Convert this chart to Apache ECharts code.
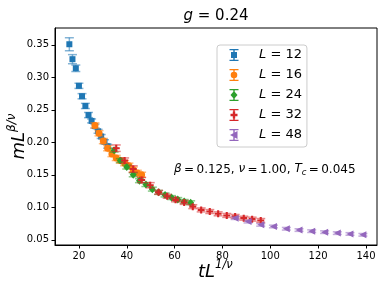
<!DOCTYPE html>
<html><head><meta charset="utf-8">
<script src="https://cdn.jsdelivr.net/npm/echarts@6/dist/echarts.min.js"></script>
<style>html,body{margin:0;padding:0;background:#fff}#c{width:386px;height:290px}</style>
</head><body><div id="c"></div>
<script>
// ---- data ----
const sizes = [12, 16, 24, 32, 48];

const x12 = [16.0, 17.3, 18.7, 20.0, 21.3, 22.7, 24.0, 25.3, 26.7, 28.0, 29.3, 30.7, 32.0];
const y12 = [0.351, 0.328, 0.314, 0.287, 0.271, 0.256, 0.242, 0.233, 0.225, 0.217, 0.209, 0.201, 0.194];
const e12 = [0.010, 0.007, 0.005, 0.004, 0.004, 0.004, 0.004, 0.003, 0.003, 0.003, 0.003, 0.003, 0.003];

const x16 = [26.7, 28.4, 30.2, 32.0, 33.8, 35.6, 37.3, 39.1, 40.9, 42.7, 44.4, 46.2];
const y16 = [0.226, 0.214, 0.202, 0.191, 0.182, 0.176, 0.172, 0.168, 0.164, 0.158, 0.153, 0.150];
const e16 = [0.004, 0.004, 0.004, 0.004, 0.004, 0.004, 0.004, 0.004, 0.004, 0.004, 0.004, 0.004];

const x24 = [34.7, 37.3, 40.0, 42.7, 45.3, 48.0, 50.7, 53.3, 56.0, 58.7, 61.3, 64.0, 66.7];
const y24 = [0.188, 0.172, 0.162, 0.150, 0.141, 0.135, 0.128, 0.123, 0.119, 0.115, 0.112, 0.109, 0.107];
const e24 = [0.003, 0.003, 0.003, 0.003, 0.003, 0.003, 0.003, 0.003, 0.003, 0.003, 0.003, 0.003, 0.003];

const x32 = [35.6, 39.1, 42.7, 46.2, 49.8, 53.3, 56.9, 60.4, 64.0, 67.6, 71.1, 74.7, 78.2, 81.8, 85.3, 88.9, 92.4, 96.0];
const y32 = [0.191, 0.172, 0.159, 0.142, 0.134, 0.123, 0.117, 0.1115, 0.1075, 0.101, 0.096, 0.0935, 0.090, 0.0875, 0.086, 0.0833, 0.0818, 0.0797];
const e32 = [0.005, 0.004, 0.005, 0.004, 0.004, 0.003, 0.003, 0.003, 0.003, 0.003, 0.003, 0.003, 0.003, 0.003, 0.003, 0.003, 0.003, 0.003];

const x48 = [85.3, 90.7, 96.0, 101.3, 106.7, 112.0, 117.3, 122.7, 128.0, 133.3, 138.7];
const y48 = [0.0833, 0.078, 0.073, 0.0705, 0.067, 0.065, 0.0633, 0.0618, 0.0603, 0.059, 0.0577];
const e48 = [0.002, 0.002, 0.002, 0.002, 0.002, 0.002, 0.002, 0.002, 0.002, 0.002, 0.002];

const xTicks = [20, 40, 60, 80, 100, 120, 140];
const yTicks = [0.05, 0.10, 0.15, 0.20, 0.25, 0.30, 0.35];

const titleText = 'g = 0.24';
const noteText = ['β', '\u2009=\u20090.125, ', 'ν', '\u2009=\u20091.00, ', 'T', 'c', '\u2009=\u20090.045'];

// ---- styling ----
const colors = ['#1f77b4', '#ff7f0e', '#2ca02c', '#d62728', '#9467bd'];
const errColors = ['rgba(31,119,180,0.55)', 'rgba(255,127,14,0.55)', 'rgba(44,160,44,0.55)', 'rgba(214,39,40,0.55)', 'rgba(148,103,189,0.55)'];
const FONT = 'DejaVu Sans';

const xs = [x12, x16, x24, x32, x48];
const ys = [y12, y16, y24, y32, y48];
const es = [e12, e16, e24, e32, e48];

const plusPath = 'path://M3.5 0 h3 v3.5 h3.5 v3 h-3.5 v3.5 h-3 v-3.5 h-3.5 v-3 h3.5 Z';
const leftTri = 'path://M0 5 L9 0 L9 10 Z';
const symbols = ['rect', 'circle', 'diamond', plusPath, leftTri];
const symSizes = [6, 7, [7, 8], 7, [7, 7]];

// legend icons: error bar + marker, centred in a 30x14 box
const pad = 'M0 0 L0.01 0 L0 0.01 Z M30 14 L29.99 14 L30 13.99 Z ';
const bar = 'M14.3 1 h1.4 v12 h-1.4 Z M10.5 1 h9 v1.3 h-9 Z M10.5 11.7 h9 v1.3 h-9 Z ';
const marks = [
  'M12 4 h6 v6 h-6 Z',
  'M18.3 7 A3.3 3.3 0 1 1 11.7 7 A3.3 3.3 0 1 1 18.3 7 Z',
  'M15 3 L18.5 7 L15 11 L11.5 7 Z',
  'M13.8 3.5 h2.4 v2.3 h2.3 v2.4 h-2.3 v2.3 h-2.4 v-2.3 h-2.3 v-2.4 h2.3 Z',
  'M11 7 L18.5 3 L18.5 11 Z'
];
const icons = marks.map(m => 'path://' + pad + bar + m);

function errRender(i) {
  return function (params, api) {
    const x = api.value(0), lo = api.value(1), hi = api.value(2);
    const p1 = api.coord([x, lo]), p2 = api.coord([x, hi]);
    const w = 4.5;
    const style = { stroke: errColors[i], lineWidth: 1.5, fill: null };
    return {
      type: 'group', children: [
        { type: 'line', shape: { x1: p1[0], y1: p1[1], x2: p2[0], y2: p2[1] }, style: style },
        { type: 'line', shape: { x1: p1[0] - w, y1: p1[1], x2: p1[0] + w, y2: p1[1] }, style: style },
        { type: 'line', shape: { x1: p2[0] - w, y1: p2[1], x2: p2[0] + w, y2: p2[1] }, style: style }
      ]
    };
  };
}

const series = [];
sizes.forEach((L, i) => {
  const name = 'L = ' + L;
  series.push({
    name: name, type: 'scatter',
    data: xs[i].map((x, k) => [x, ys[i][k]]),
    symbol: symbols[i], symbolSize: symSizes[i],
    itemStyle: { color: colors[i], opacity: 1 },
    emphasis: { disabled: true }, z: 2 + i * 2 + 1
  });
  series.push({
    name: name, type: 'custom',
    data: xs[i].map((x, k) => [x, ys[i][k] - es[i][k], ys[i][k] + es[i][k]]),
    encode: { x: 0, y: [1, 2] },
    renderItem: errRender(i),
    itemStyle: { color: colors[i] },
    z: 2 + i * 2
  });
});

const chart = echarts.init(document.getElementById('c'));
chart.setOption({
  animation: false,
  backgroundColor: '#fff',
  grid: { left: 55, right: 9, top: 28, bottom: 45, show: true, borderColor: '#000', borderWidth: 1,
    containLabel: false, outerBoundsMode: 'none' },
  xAxis: {
    type: 'value', min: 10, max: 144.6,
    axisLine: { lineStyle: { color: '#000', width: 1 } },
    axisTick: { show: true, inside: false, length: 3.5, lineStyle: { color: '#000' }, customValues: xTicks },
    axisLabel: { color: '#000', fontFamily: FONT, fontSize: 10, margin: 6, customValues: xTicks },
    splitLine: { show: false }
  },
  yAxis: {
    type: 'value', min: 0.042, max: 0.376,
    name: '{a|mL}{s|β/ν}', nameLocation: 'middle', nameGap: 27, nameRotate: 90, nameMoveOverlap: false,
    nameTextStyle: { rich: {
      a: { fontFamily: FONT, fontStyle: 'italic', fontSize: 18, color: '#000', lineHeight: 22, verticalAlign: 'bottom' },
      s: { fontFamily: FONT, fontStyle: 'italic', fontSize: 12, color: '#000', lineHeight: 14, verticalAlign: 'top' }
    } },
    axisLine: { show: true, lineStyle: { color: '#000', width: 1 } },
    axisTick: { show: true, inside: false, length: 3.5, lineStyle: { color: '#000' }, customValues: yTicks },
    axisLabel: { color: '#000', fontFamily: FONT, fontSize: 10, margin: 6, customValues: yTicks, formatter: v => v.toFixed(2) },
    splitLine: { show: false }
  },
  legend: {
    orient: 'vertical', left: 217, top: 45,
    data: sizes.map((L, i) => ({ name: 'L = ' + L, icon: icons[i] })),
    itemWidth: 30, itemHeight: 14, itemGap: 6,
    padding: [3, 5, 5, 2],
    borderColor: '#cccccc', borderWidth: 1, borderRadius: 3, backgroundColor: 'rgba(255,255,255,0.8)',
    formatter: n => '{i|L} = ' + n.slice(4),
    textStyle: { fontFamily: FONT, fontSize: 13, color: '#000', padding: [0, 0, 0, 5],
      rich: { i: { fontFamily: FONT, fontStyle: 'italic', fontSize: 13, color: '#000' } } },
    selectedMode: false
  },
  graphic: [
    { type: 'text', x: 216, y: 16, style: {
      text: '{g|' + titleText.slice(0, 1) + '}' + titleText.slice(1),
      fontFamily: FONT, fontSize: 15, fill: '#000', align: 'center', verticalAlign: 'middle',
      rich: { g: { fontFamily: FONT, fontStyle: 'italic', fontSize: 15, fill: '#000' } } } },
    { type: 'text', x: 198, y: 270, style: {
      text: '{a|tL}{s|1/ν}',
      fontFamily: FONT, fontSize: 18, fill: '#000', align: 'left', verticalAlign: 'middle',
      rich: {
        a: { fontFamily: FONT, fontStyle: 'italic', fontSize: 18, fill: '#000', lineHeight: 22, verticalAlign: 'bottom' },
        s: { fontFamily: FONT, fontStyle: 'italic', fontSize: 11.5, fill: '#000', lineHeight: 14, verticalAlign: 'top' }
      } } },
    { type: 'text', x: 174, y: 170, style: {
      text: '{i|' + noteText[0] + '}' + noteText[1] + '{i|' + noteText[2] + '}' + noteText[3] + '{i|' + noteText[4] + '}{sub|' + noteText[5] + '}' + noteText[6],
      fontFamily: FONT, fontSize: 12, fill: '#000', align: 'left', verticalAlign: 'middle',
      rich: {
        i: { fontFamily: FONT, fontStyle: 'italic', fontSize: 12, fill: '#000', lineHeight: 14, verticalAlign: 'top' },
        sub: { fontFamily: FONT, fontStyle: 'italic', fontSize: 8.5, fill: '#000', lineHeight: 10, verticalAlign: 'bottom' }
      } } }
  ],
  series: series
});
</script>
</body></html>
